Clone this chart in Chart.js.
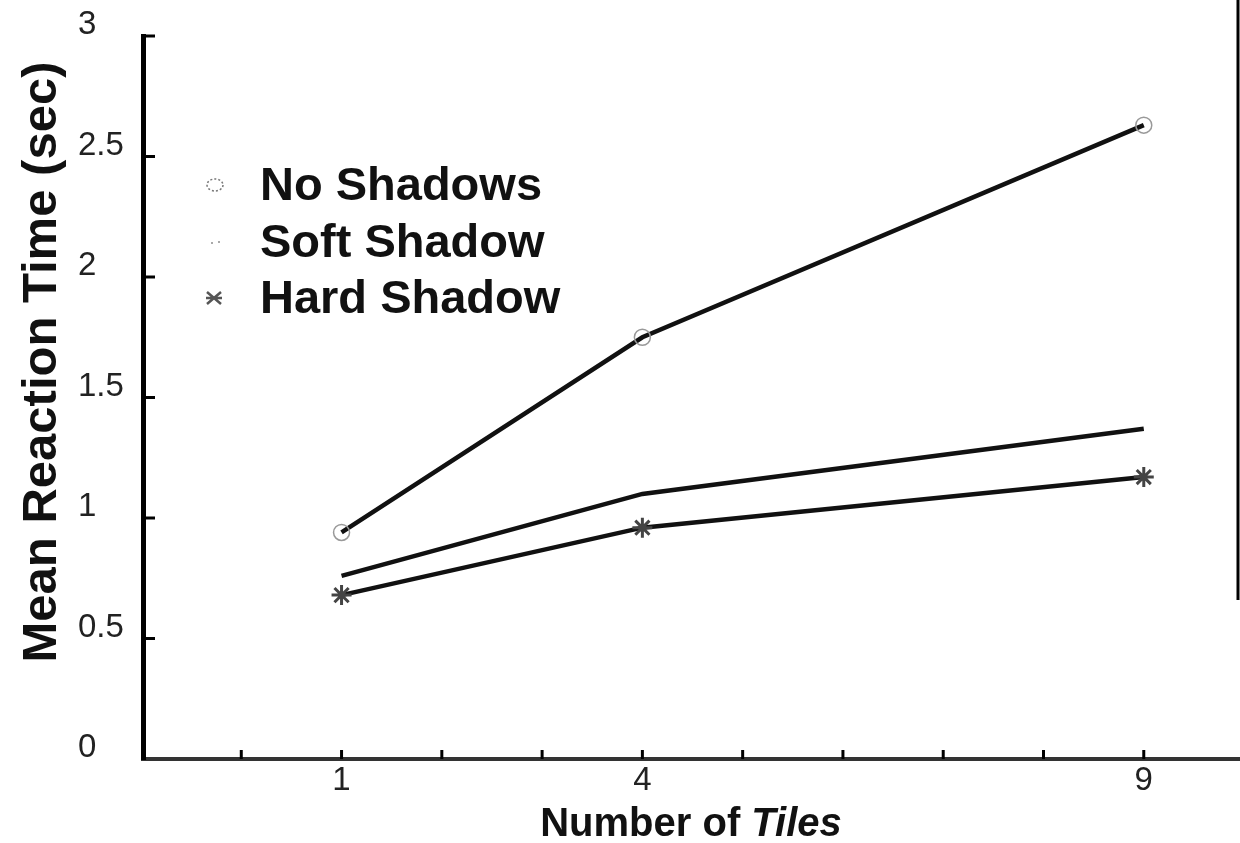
<!DOCTYPE html>
<html>
<head>
<meta charset="utf-8">
<script src="https://cdn.jsdelivr.net/npm/chart.js@4/dist/chart.umd.min.js"></script>
<style>
  html, body { margin: 0; padding: 0; background: #fff; }
  #wrap { width: 1240px; height: 843px; }
</style>
</head>
<body>
<div id="wrap"><canvas id="c" width="1240" height="843"></canvas></div>
<script>
// ---- data ----
const tiles = [1, 4, 9];
const noShadows = [0.94, 1.75, 2.63];
const softShadow = [0.76, 1.10, 1.37];
const hardShadow = [0.68, 0.96, 1.17];
const xTickLabels = ['1', '4', '9'];
const xMinorTicks = [0, 1, 2, 3, 4, 5, 6, 7, 8, 9];
const yTicks = [0, 0.5, 1, 1.5, 2, 2.5, 3];
const seriesNames = ['No Shadows', 'Soft Shadow', 'Hard Shadow'];
const yTitle = 'Mean Reaction Time (sec)';
const xTitleA = 'Number of ';
const xTitleB = 'Tiles';

function pts(ys) { return tiles.map((x, i) => ({ x: x, y: ys[i] })); }

const decor = {
  id: 'decor',
  afterDraw(chart) {
    const ctx = chart.ctx;
    const xs = chart.scales.x, ys = chart.scales.y;
    const area = chart.chartArea;
    ctx.save();
    // extend x axis line to canvas edge
    ctx.strokeStyle = '#333';
    ctx.lineWidth = 4;
    ctx.beginPath();
    ctx.moveTo(area.right - 4, area.bottom);
    ctx.lineTo(1240, area.bottom);
    ctx.stroke();
    // y tick marks (inside)
    ctx.strokeStyle = '#000';
    ctx.lineWidth = 3;
    yTicks.forEach(v => {
      if (v === 0) return;
      const y = ys.getPixelForValue(v);
      ctx.beginPath();
      ctx.moveTo(area.left, y);
      ctx.lineTo(area.left + 12, y);
      ctx.stroke();
    });
    // x tick marks (inside)
    xMinorTicks.forEach(v => {
      const x = xs.getPixelForValue(v);
      ctx.beginPath();
      ctx.moveTo(x, area.bottom);
      ctx.lineTo(x, area.bottom - 9);
      ctx.stroke();
    });
    // right scan edge
    ctx.lineWidth = 3;
    ctx.beginPath();
    ctx.moveTo(1238, 0);
    ctx.lineTo(1238, 600);
    ctx.stroke();

    // y title
    ctx.fillStyle = '#111';
    ctx.font = 'bold 49px "Liberation Sans", Arial, sans-serif';
    ctx.textAlign = 'center';
    ctx.textBaseline = 'middle';
    ctx.translate(42, 362);
    ctx.rotate(-Math.PI / 2);
    ctx.fillText(yTitle, 0, 0);
    ctx.setTransform(1, 0, 0, 1, 0, 0);

    // x title with italic part
    ctx.textAlign = 'left';
    ctx.textBaseline = 'alphabetic';
    const fA = 'bold 40px "Liberation Sans", Arial, sans-serif';
    const fB = 'italic bold 40px "Liberation Sans", Arial, sans-serif';
    ctx.font = fA; const wA = ctx.measureText(xTitleA).width;
    ctx.font = fB; const wB = ctx.measureText(xTitleB).width;
    const startX = 691 - (wA + wB) / 2;
    ctx.font = fA; ctx.fillText(xTitleA, startX, 836);
    ctx.font = fB; ctx.fillText(xTitleB, startX + wA, 836);

    // legend
    const legY = [185, 242, 298];
    ctx.font = 'bold 47px "Liberation Sans", Arial, sans-serif';
    ctx.textBaseline = 'middle';
    ctx.fillStyle = '#111';
    seriesNames.forEach((n, i) => ctx.fillText(n, 260, legY[i] + 2));
    // legend markers
    ctx.strokeStyle = '#777';
    ctx.lineWidth = 1.5;
    ctx.setLineDash([2, 2]);
    ctx.beginPath(); ctx.ellipse(215, legY[0], 8, 6, 0, 0, Math.PI * 2); ctx.stroke();
    ctx.setLineDash([]);
    ctx.fillStyle = '#aaa';
    ctx.fillRect(211, legY[1], 2, 2); ctx.fillRect(218, legY[1] - 1, 2, 2);
    ctx.strokeStyle = '#555';
    ctx.lineWidth = 2.5;
    const hx = 214, hy = legY[2];
    ctx.beginPath();
    ctx.moveTo(hx - 7, hy - 6); ctx.lineTo(hx + 7, hy + 6);
    ctx.moveTo(hx - 7, hy + 6); ctx.lineTo(hx + 7, hy - 6);
    ctx.moveTo(hx - 8, hy); ctx.lineTo(hx + 8, hy);
    ctx.stroke();
    ctx.restore();
  }
};

const lineBase = { borderColor: '#111', borderWidth: 4.5, tension: 0, fill: false };

new Chart(document.getElementById('c'), {
  type: 'line',
  data: {
    datasets: [
      Object.assign({}, lineBase, {
        label: seriesNames[0], data: pts(noShadows),
        pointStyle: 'circle', pointRadius: 8, pointBorderColor: '#999',
        pointBackgroundColor: 'rgba(255,255,255,0)', pointBorderWidth: 1.5
      }),
      Object.assign({}, lineBase, {
        label: seriesNames[1], data: pts(softShadow),
        pointRadius: 0
      }),
      Object.assign({}, lineBase, {
        label: seriesNames[2], data: pts(hardShadow),
        pointStyle: 'star', pointRadius: 10, pointBorderColor: '#444',
        pointBackgroundColor: '#444', pointBorderWidth: 3
      })
    ]
  },
  options: {
    responsive: false,
    animation: false,
    layout: { padding: { left: 78, top: 36, right: 0, bottom: 0 } },
    plugins: { legend: { display: false }, tooltip: { enabled: false } },
    scales: {
      x: {
        type: 'linear', min: -0.98, max: 9.83,
        grid: { display: false, drawTicks: false },
        border: { display: true, color: '#333', width: 4 },
        afterBuildTicks: (s) => { s.ticks = tiles.map(v => ({ value: v })); },
        afterFit: (s) => { s.height = 84; },
        ticks: {
          padding: 2,
          color: '#222',
          font: { family: '"Liberation Sans", Arial, sans-serif', size: 33, weight: 400 },
          callback: (v) => { const i = tiles.indexOf(v); return i >= 0 ? xTickLabels[i] : ''; }
        }
      },
      y: {
        type: 'linear', min: 0, max: 3,
        grid: { display: false, drawTicks: false },
        border: { display: true, color: '#000', width: 5 },
        afterBuildTicks: (s) => { s.ticks = yTicks.map(v => ({ value: v })); },
        afterFit: (s) => { s.width = 65; },
        ticks: {
          crossAlign: 'far',
          labelOffset: -11,
          padding: 0,
          color: '#222',
          font: { family: '"Liberation Sans", Arial, sans-serif', size: 33, weight: 400 },
          callback: (v) => String(v)
        }
      }
    }
  },
  plugins: [decor]
});
</script>
</body>
</html>
